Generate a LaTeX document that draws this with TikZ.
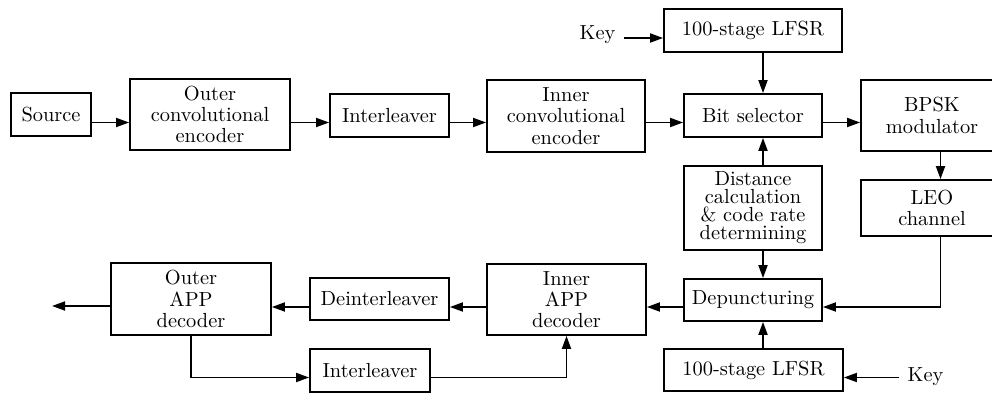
\documentclass[tikz,border=0pt]{standalone}
\usetikzlibrary{arrows.meta}
\begin{document}
\begin{tikzpicture}[x=0.5pt,y=-0.5pt,
  box/.style={draw,line width=0.9pt,rectangle,inner sep=0pt,align=center,
    font=\fontsize{10.2}{10.6}\selectfont},
  lbl/.style={inner sep=1pt,font=\fontsize{10.2}{10.6}\selectfont},
  arr/.style={line width=0.9pt,-{Triangle[length=6.5pt,width=4.5pt]}},
  ln/.style={line width=0.9pt}]
\useasboundingbox (0,0) rectangle (992,395);
\clip (0,0) rectangle (992,395);
% rows and columns of connectors
\coordinate (r1) at (0,122.5);
\coordinate (rk) at (0,38);
\coordinate (r2) at (0,307);
\coordinate (r3) at (0,377.5);
\coordinate (v1) at (763,0);
\coordinate (v2) at (940.5,0);
\coordinate (outp) at (52,306);
% nodes
\node[box,minimum width=80pt*0.5,minimum height=43pt*0.5] (src) at (51,114.5) {Source};
\node[box,minimum width=160pt*0.5,minimum height=71pt*0.5] (outer) at (210,114.5) {Outer\\convolutional\\encoder};
\node[box,minimum width=119pt*0.5,minimum height=43pt*0.5] (il1) at (389.5,115.5) {Interleaver};
\node[box,minimum width=158pt*0.5,minimum height=72pt*0.5] (inner) at (566,116) {Inner\\convolutional\\encoder};
\node[box,minimum width=178pt*0.5,minimum height=43pt*0.5] (lfsr1) at (753,30.5) {100-stage LFSR};
\node[box,minimum width=138pt*0.5,minimum height=43pt*0.5] (bitsel) at (753,115.5) {Bit selector};
\node[box,minimum width=142pt*0.5,minimum height=71pt*0.5] (bpsk) at (932,115.5) {BPSK\\modulator};
\node[box,minimum width=138pt*0.5,minimum height=84pt*0.5,font=\fontsize{10.2}{9}\selectfont] (dist) at (753,208) {Distance\\calculation\\\&\ code rate\\determining};
\node[box,minimum width=142pt*0.5,minimum height=56pt*0.5] (leo) at (932,208) {LEO\\channel};
\node[box,minimum width=138pt*0.5,minimum height=42pt*0.5] (depunc) at (753,300) {Depuncturing};
\node[box,minimum width=159pt*0.5,minimum height=71pt*0.5] (innerapp) at (566.5,299.5) {Inner\\APP\\decoder};
\node[box,minimum width=179pt*0.5,minimum height=42pt*0.5] (lfsr2) at (753.5,370) {100-stage LFSR};
\node[box,minimum width=139pt*0.5,minimum height=42pt*0.5] (deint) at (379.5,299) {Deinterleaver};
\node[box,minimum width=160pt*0.5,minimum height=72pt*0.5] (outerapp) at (191,299) {Outer\\APP\\decoder};
\node[box,minimum width=120pt*0.5,minimum height=43pt*0.5] (il2) at (370,370.5) {Interleaver};
\node[lbl,anchor=base] (key1) at (597.5,40) {Key};
\node[lbl,anchor=base] (key2) at (925.5,382) {Key};
% connectors
\draw[arr] (src.east |- r1) -- (outer.west |- r1);
\draw[arr] (outer.east |- r1) -- (il1.west |- r1);
\draw[arr] (il1.east |- r1) -- (inner.west |- r1);
\draw[arr] (inner.east |- r1) -- (bitsel.west |- r1);
\draw[arr] (bitsel.east |- r1) -- (bpsk.west |- r1);
\draw[arr] ([xshift=3pt]key1.east |- rk) -- (lfsr1.west |- rk);
\draw[arr] (lfsr1.south -| v1) -- (bitsel.north -| v1);
\draw[arr] (dist.north -| v1) -- (bitsel.south -| v1);
\draw[arr] (dist.south -| v1) -- (depunc.north -| v1);
\draw[arr] (lfsr2.north -| v1) -- (depunc.south -| v1);
\draw[arr] (bpsk.south -| v2) -- (leo.north -| v2);
\draw[arr] (leo.south -| v2) |- (depunc.east |- r2);
\draw[arr] (depunc.west |- r2) -- (innerapp.east |- r2);
\draw[arr] (innerapp.west |- r2) -- (deint.east |- r2);
\draw[arr] (deint.west |- r2) -- (outerapp.east |- r2);
\draw[arr] (outerapp.west |- outp) -- (outp);
\draw[arr] (outerapp.south) |- (il2.west |- r3);
\draw[arr] (il2.east |- r3) -| (innerapp.south);
\draw[arr] ([xshift=-3pt]key2.west |- r3) -- (lfsr2.east |- r3);
\end{tikzpicture}
\end{document}
